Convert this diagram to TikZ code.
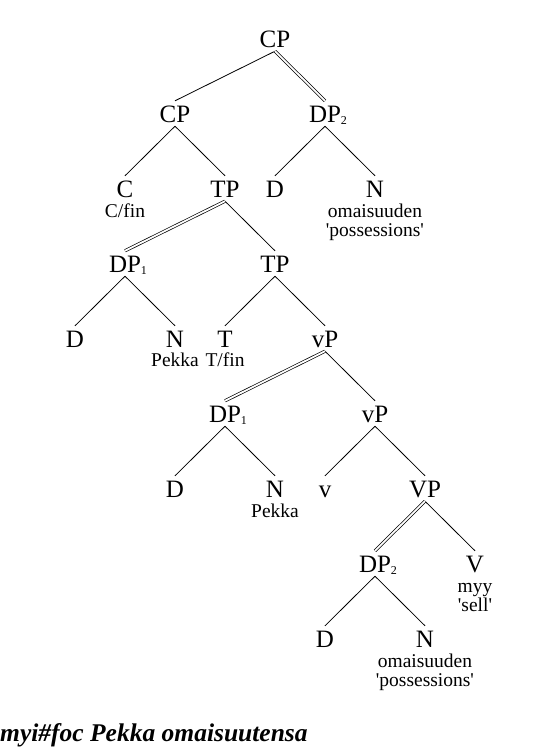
\documentclass[tikz,border=0pt]{standalone}
\usepackage{fontspec}
\setmainfont{Liberation Serif}
\newcommand\subx[1]{\rlap{\raisebox{-2.5pt}{\fontsize{12}{12}\selectfont #1}}}
\begin{document}
\begin{tikzpicture}[x=1pt,y=-1pt]
\useasboundingbox (0,0) rectangle (550,750);
\tikzset{
 lab/.style={font=\fontsize{25}{25}\selectfont, text height=17pt, text depth=0pt, inner xsep=0pt, inner ysep=4pt, anchor=base},
 gl/.style={font=\fontsize{19.5}{19.5}\selectfont, inner sep=0pt, anchor=base},
 br/.style={line width=0.8pt},
 mv/.style={line width=0.7pt, double=white, double distance=1.8pt, draw=black},
}
% level 1
\node[lab] (cp0) at (275,47) {CP};
% level 2
\node[lab] (cp1) at (175,122) {CP};
\node[lab] (dp2a) at (325,122) {DP\subx{2}};
% level 3
\node[lab] (c) at (125,197) {C};
\node[lab] (tp1) at (225,197) {TP};
\node[lab] (d1) at (275,197) {D};
\node[lab] (n1) at (375,197) {N};
\node[gl] (gcfin) at (125,217) {C/fin};
\node[gl] (gom1) at (375,217) {omaisuuden};
\node[gl] (gpos1) at (375,236) {\textquotesingle possessions\textquotesingle};
% level 4
\node[lab] (dp1a) at (125,272) {DP\subx{1}};
\node[lab] (tp2) at (275,272) {TP};
% level 5
\node[lab] (d2) at (75,347) {D};
\node[lab] (n2) at (175,347) {N};
\node[lab] (t) at (225,347) {T};
\node[lab] (vp1) at (325,347) {vP};
\node[gl] (gpek1) at (175,366) {Pekka};
\node[gl] (gtfin) at (225,366) {T/fin};
% level 6
\node[lab] (dp1b) at (225,422) {DP\subx{1}};
\node[lab] (vp2) at (375,422) {vP};
% level 7
\node[lab] (d3) at (175,497) {D};
\node[lab] (n3) at (275,497) {N};
\node[lab] (v) at (325,497) {v};
\node[lab] (bigvp) at (425,497) {VP};
\node[gl] (gpek2) at (275,517) {Pekka};
% level 8
\node[lab] (dp2b) at (375,572) {DP\subx{2}};
\node[lab] (bigv) at (475,572) {V};
\node[gl] (gmyy) at (475,592) {myy};
\node[gl] (gsell) at (475,611) {\textquotesingle sell\textquotesingle};
% level 9
\node[lab] (d4) at (325,647) {D};
\node[lab] (n4) at (425,647) {N};
\node[gl] (gom2) at (425,667) {omaisuuden};
\node[gl] (gpos2) at (425,686) {\textquotesingle possessions\textquotesingle};
% sentence
\node[anchor=base west, inner sep=0pt, font=\fontsize{25.5}{25.5}\selectfont\bfseries\itshape] (sent) at (0,741) {myi\#foc Pekka omaisuutensa};
% single branches
\foreach \a/\b in {cp0/cp1, cp1/c, cp1/tp1, dp2a/d1, dp2a/n1, tp1/tp2, dp1a/d2, dp1a/n2, tp2/t, tp2/vp1, vp1/vp2, dp1b/d3, dp1b/n3, vp2/v, vp2/bigvp, bigvp/bigv, dp2b/d4, dp2b/n4}
  \draw[br] (\a.south) -- (\b.north);
% movement (double) branches
\foreach \a/\b in {cp0/dp2a, tp1/dp1a, vp1/dp1b, bigvp/dp2b}
  \draw[mv] (\a.south) -- (\b.north);
\end{tikzpicture}
\end{document}
